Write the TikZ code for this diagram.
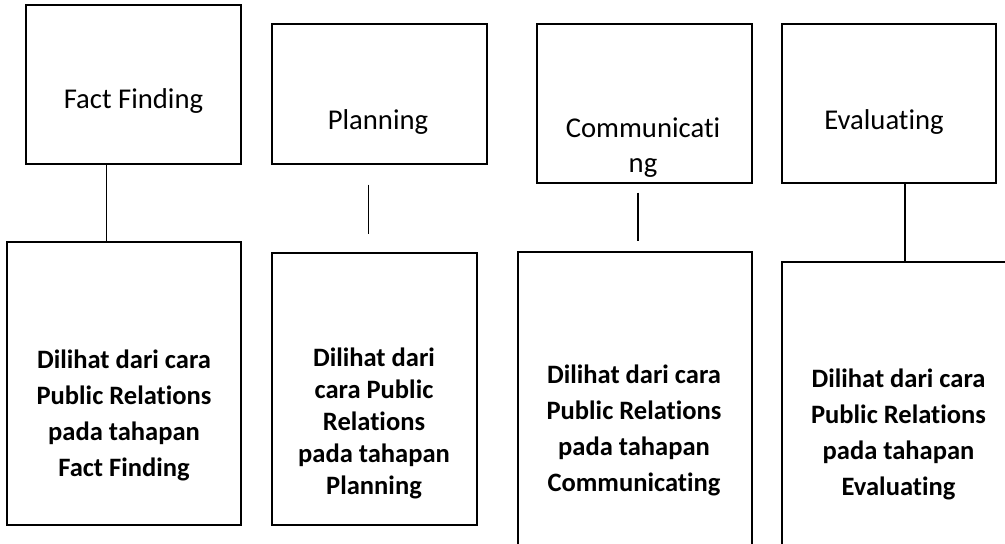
\documentclass[tikz,border=0pt]{standalone}
\usepackage{fontspec}
\setmainfont{Carlito}[Ligatures={NoCommon}]
\usetikzlibrary{calc}

\begin{document}
\begin{tikzpicture}[x=0.75pt,y=-0.75pt]
    \tikzstyle{box}=[draw,rectangle,line width=1.1pt,inner sep=0pt]
    \tikzstyle{link}=[draw,line width=1.1pt]
    \tikzstyle{head}=[inner sep=0pt,align=center,font=\fontsize{21.5}{26.3}\selectfont]
    \tikzstyle{desc}=[inner sep=0pt,align=center,font=\bfseries\fontsize{19.9}{27}\selectfont]
    \fill[white] (0,0) rectangle (1005,543);
    \useasboundingbox (0,0) rectangle (1005,543);
    \clip (0,0) rectangle (1005,543);
    \node[box,minimum width=161.25pt,minimum height=119.25pt] (t_1) at (133.5,84.5) {};
    \node[box,minimum width=161.25pt,minimum height=105pt] (t_2) at (379.5,94) {};
    \node[box,minimum width=161.25pt,minimum height=119.25pt] (t_3) at (644.5,103.5) {};
    \node[box,minimum width=160.5pt,minimum height=119.25pt] (t_4) at (889,103.5) {};
    \node[box,minimum width=175.5pt,minimum height=212.25pt] (b_1) at (124,383.5) {};
    \node[box,minimum width=153.75pt,minimum height=204pt] (b_2) at (374.5,389) {};
    \node[box,minimum width=175.5pt,minimum height=231pt] (b_3) at (635,406) {};
    \node[box,minimum width=174.75pt,minimum height=223.5pt] (b_4) at (898.5,411) {};
    \node[head] (l_1) at (133.5,101) {Fact Finding};
    \node[head] (l_2) at (378,122) {Planning};
    \node[head] (l_3) at (643,147.5) {Communicati\\ng};
    \node[head] (l_4) at (884,122) {Evaluating};
    \node[desc] (d_1) at (124,415) {Dilihat dari cara\\Public Relations\\pada tahapan\\Fact Finding};
    \node[desc,font=\bfseries\fontsize{19.9}{24}\selectfont] (d_2) at (374,423) {Dilihat dari\\cara Public\\Relations\\pada tahapan\\Planning};
    \node[desc] (d_3) at (634,430) {Dilihat dari cara\\Public Relations\\pada tahapan\\Communicating};
    \node[desc] (d_4) at (898.5,434) {Dilihat dari cara\\Public Relations\\pada tahapan\\Evaluating};
    \draw[link] ($(t_1.south)+(-27,0)$) -- ($(b_1.north)+(-17.5,0)$);
    \draw[link] ($(t_2.south)+(-11,20)$) -- ($(b_2.north)+(-6,-18)$);
    \draw[link] ($(t_3.south)+(-6.5,9)$) -- ($(b_3.north)+(3,-10)$);
    \draw[link] ($(t_4.south)+(16,0)$) -- ($(b_4.north)+(6.5,0)$);
\end{tikzpicture}
\end{document}
